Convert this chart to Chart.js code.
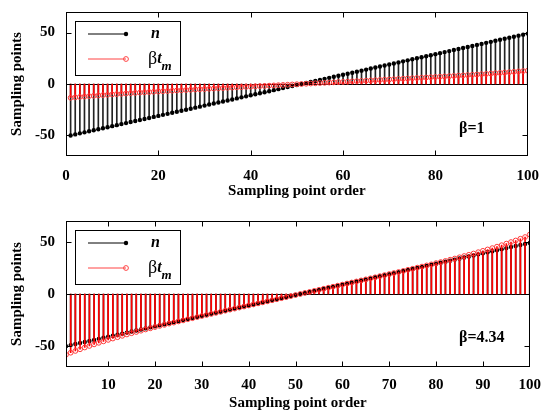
<!DOCTYPE html>
<html lang="en">
<head>
<meta charset="UTF-8">
<title>Sampling points</title>
<script src="https://cdn.jsdelivr.net/npm/chart.js@4/dist/chart.umd.min.js"></script>
<style>
  body { margin: 0; background: #fff; }
  .panel { position: relative; width: 542px; height: 207px; }
</style>
</head>
<body>
<div class="panel"><canvas id="topChart"></canvas></div>
<div class="panel"><canvas id="bottomChart"></canvas></div>

<script>
// sampling point order (x)
const sampleOrder = [
  1,2,3,4,5,6,7,8,9,10, 11,12,13,14,15,16,17,18,19,20,
  21,22,23,24,25,26,27,28,29,30, 31,32,33,34,35,36,37,38,39,40,
  41,42,43,44,45,46,47,48,49,50, 51,52,53,54,55,56,57,58,59,60,
  61,62,63,64,65,66,67,68,69,70, 71,72,73,74,75,76,77,78,79,80,
  81,82,83,84,85,86,87,88,89,90, 91,92,93,94,95,96,97,98,99,100
];

// n
const nValues = [
  -50,-49,-48,-47,-46,-45,-44,-43,-42,-41,
  -40,-39,-38,-37,-36,-35,-34,-33,-32,-31,
  -30,-29,-28,-27,-26,-25,-24,-23,-22,-21,
  -20,-19,-18,-17,-16,-15,-14,-13,-12,-11,
  -10,-9,-8,-7,-6,-5,-4,-3,-2,-1,
  0,1,2,3,4,5,6,7,8,9,
  10,11,12,13,14,15,16,17,18,19,
  20,21,22,23,24,25,26,27,28,29,
  30,31,32,33,34,35,36,37,38,39,
  40,41,42,43,44,45,46,47,48,49
];

// beta*t_m, beta = 1
const btmTop = [
  -13.40,-12.98,-12.59,-12.21,-11.83,-11.48,-11.13,-10.79,-10.46,-10.14,
  -9.83,-9.53,-9.23,-8.94,-8.66,-8.38,-8.11,-7.84,-7.57,-7.31,
  -7.06,-6.81,-6.55,-6.31,-6.06,-5.82,-5.58,-5.34,-5.10,-4.86,
  -4.63,-4.39,-4.16,-3.93,-3.69,-3.46,-3.23,-3.00,-2.77,-2.54,
  -2.30,-2.07,-1.84,-1.61,-1.38,-1.15,-0.92,-0.69,-0.46,-0.23,
  0,0.23,0.46,0.69,0.92,1.15,1.38,1.61,1.84,2.07,
  2.30,2.54,2.77,3.00,3.23,3.46,3.69,3.93,4.16,4.39,
  4.63,4.86,5.10,5.34,5.58,5.82,6.06,6.31,6.55,6.81,
  7.06,7.31,7.57,7.84,8.11,8.38,8.66,8.94,9.23,9.53,
  9.83,10.14,10.46,10.79,11.13,11.48,11.83,12.21,12.59,12.98
];

// beta*t_m, beta = 4.34
const btmBottom = [
  -58.2,-56.3,-54.6,-53.0,-51.3,-49.8,-48.3,-46.8,-45.4,-44.0,
  -42.7,-41.4,-40.1,-38.8,-37.6,-36.4,-35.2,-34.0,-32.9,-31.7,
  -30.6,-29.6,-28.4,-27.4,-26.3,-25.3,-24.2,-23.2,-22.1,-21.1,
  -20.1,-19.1,-18.1,-17.1,-16.0,-15.0,-14.0,-13.0,-12.0,-11.0,
  -10.0,-9.0,-8.0,-7.0,-6.0,-5.0,-4.0,-3.0,-2.0,-1.0,
  0,1.0,2.0,3.0,4.0,5.0,6.0,7.0,8.0,9.0,
  10.0,11.0,12.0,13.0,14.0,15.0,16.0,17.1,18.1,19.1,
  20.1,21.1,22.1,23.2,24.2,25.3,26.3,27.4,28.4,29.6,
  30.6,31.7,32.9,34.0,35.2,36.4,37.6,38.8,40.1,41.4,
  42.7,44.0,45.4,46.8,48.3,49.8,51.3,53.0,54.6,57.0
];

const yTicks = [-50, 0, 50];
const xTicksTop = [0, 20, 40, 60, 80, 100];
const xTicksBottom = [10, 20, 30, 40, 50, 60, 70, 80, 90, 100];

const FONT = '"Liberation Serif", "Times New Roman", serif';
const RED = '#ff0000';

// frame, zero baseline, inward ticks, legend and beta label
const decor = {
  id: 'decor',
  beforeDatasetsDraw(chart) {
    const ctx = chart.ctx, a = chart.chartArea;
    const y0 = Math.round(chart.scales.y.getPixelForValue(0)) + 0.5;
    ctx.save();
    ctx.strokeStyle = '#000';
    ctx.lineWidth = 1;
    ctx.beginPath();
    ctx.moveTo(a.left, y0);
    ctx.lineTo(a.right, y0);
    ctx.stroke();
    ctx.restore();
  },
  afterDraw(chart, args, opts) {
    const ctx = chart.ctx, a = chart.chartArea;
    const xs = chart.scales.x, ys = chart.scales.y;
    ctx.save();
    ctx.strokeStyle = '#000';
    ctx.lineWidth = 1;
    const L = Math.round(a.left) + 0.5, R = Math.round(a.right) - 0.5;
    const T = Math.round(a.top) + 0.5, B = Math.round(a.bottom) - 0.5;
    ctx.strokeRect(L, T, R - L, B - T);
    ctx.beginPath();
    xs.ticks.forEach(t => {
      const px = Math.round(xs.getPixelForValue(t.value)) + 0.5;
      if (px <= L + 1 || px >= R - 1) return;
      ctx.moveTo(px, B); ctx.lineTo(px, B - 5);
      ctx.moveTo(px, T); ctx.lineTo(px, T + 5);
    });
    ys.ticks.forEach(t => {
      const py = Math.round(ys.getPixelForValue(t.value)) + 0.5;
      ctx.moveTo(L, py); ctx.lineTo(L + 5, py);
      ctx.moveTo(R, py); ctx.lineTo(R - 5, py);
    });
    ctx.stroke();

    // legend
    const bx = 75.5, by = Math.round(a.top) + 9.5;
    ctx.fillStyle = '#fff';
    ctx.fillRect(bx, by, 105, 54);
    ctx.strokeRect(bx, by, 105, 54);
    const r1 = a.top + 22, r2 = a.top + 47;
    ctx.beginPath();
    ctx.moveTo(88, r1); ctx.lineTo(126, r1);
    ctx.stroke();
    ctx.fillStyle = '#000';
    ctx.beginPath(); ctx.arc(126, r1, 2.2, 0, Math.PI * 2); ctx.fill();
    ctx.strokeStyle = '#ff4545';
    ctx.beginPath();
    ctx.moveTo(88, r2); ctx.lineTo(126, r2);
    ctx.stroke();
    ctx.beginPath(); ctx.arc(126, r2, 2.4, 0, Math.PI * 2); ctx.stroke();

    ctx.fillStyle = '#000';
    ctx.textBaseline = 'middle';
    ctx.textAlign = 'left';
    ctx.font = 'italic bold 16px ' + FONT;
    ctx.fillText('n', 151, r1);
    ctx.font = '18px ' + FONT;
    ctx.fillText('β', 148, r2);
    let w = ctx.measureText('β').width;
    ctx.font = 'italic bold 16px ' + FONT;
    ctx.fillText('t', 148 + w, r2);
    w += ctx.measureText('t').width;
    ctx.font = 'italic bold 13px ' + FONT;
    ctx.fillText('m', 148 + w, r2 + 8);

    // beta label
    ctx.font = 'bold 16px ' + FONT;
    ctx.fillText(opts.beta, 459, a.top + 117);
    ctx.restore();
  }
};

function makeChart(id, redValues, xMin, xTicks, beta, padTop, tickPad, titlePad) {
  const pts = vals => vals.map((v, i) => ({ x: sampleOrder[i], y: v }));
  const stems = vals => vals.map((v, i) => ({ x: sampleOrder[i], y: [0, v] }));
  const tickFont = { family: FONT, size: 15, weight: 'bold' };
  return new Chart(document.getElementById(id), {
    type: 'bar',
    data: {
      datasets: [
        { type: 'bar', data: stems(nValues), backgroundColor: '#222', barThickness: 1, grouped: false, order: 4 },
        { type: 'line', data: pts(nValues), showLine: false, pointRadius: 2.2, pointBackgroundColor: '#000',
          pointBorderColor: '#000', pointBorderWidth: 0, order: 3 },
        { type: 'bar', data: stems(redValues), backgroundColor: RED, barThickness: 1, grouped: false, order: 2 },
        { type: 'line', data: pts(redValues), showLine: false, pointRadius: 2.4, pointBackgroundColor: 'rgba(0,0,0,0)',
          pointBorderColor: '#ff3a3a', pointBorderWidth: 1, order: 1 }
      ]
    },
    options: {
      responsive: true,
      maintainAspectRatio: false,
      animation: false,
      layout: { padding: { top: padTop, right: 7, left: 0, bottom: 0 } },
      plugins: { legend: { display: false }, tooltip: { enabled: false }, decor: { beta: beta } },
      scales: {
        x: {
          type: 'linear', min: xMin, max: 100, offset: false,
          grid: { display: false, offset: false }, border: { display: false },
          afterBuildTicks: s => { s.ticks = xTicks.map(v => ({ value: v })); },
          afterFit: s => { s.height = 207 - padTop - 146; },
          ticks: { font: tickFont, color: '#000', padding: tickPad, maxRotation: 0 },
          title: { display: true, text: 'Sampling point order', font: tickFont, color: '#000', padding: { top: 0, bottom: titlePad } }
        },
        y: {
          min: -70, max: 70,
          grid: { display: false }, border: { display: false },
          afterBuildTicks: s => { s.ticks = yTicks.map(v => ({ value: v })); },
          afterFit: s => { s.width = 66; },
          ticks: { font: tickFont, color: '#000', padding: 3 },
          title: { display: true, text: 'Sampling points', font: tickFont, color: '#000', padding: { top: 8, bottom: 0 } }
        }
      }
    },
    plugins: [decor]
  });
}

makeChart('topChart', btmTop, 0, xTicksTop, 'β=1', 10, 3, 7);
makeChart('bottomChart', btmBottom, 1, xTicksBottom, 'β=4.34', 14, 1, 2);
</script>
</body>
</html>
